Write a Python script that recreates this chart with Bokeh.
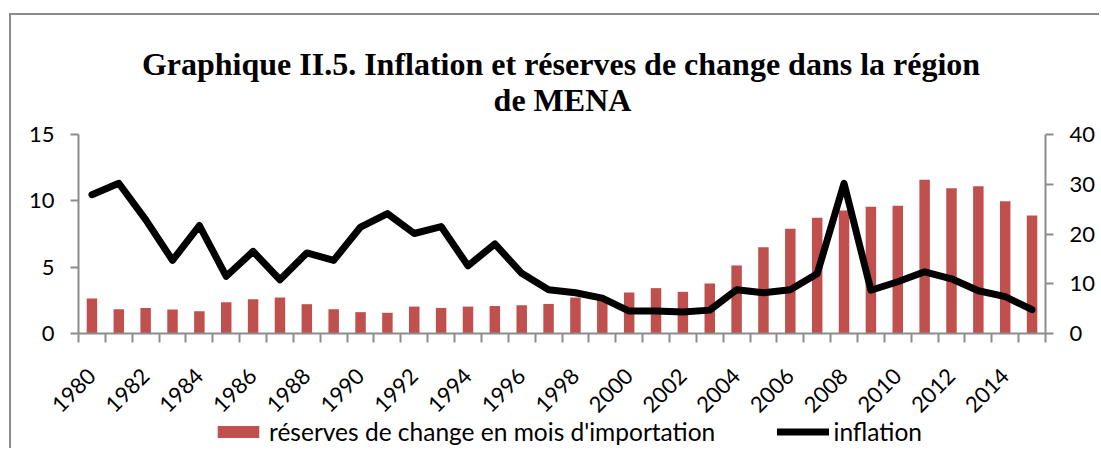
import math
from bokeh.plotting import figure
from bokeh.models import (Range1d, LinearAxis, FixedTicker, Legend, LegendItem,
                          Label, ColumnDataSource)
from bokeh.embed import file_html
from bokeh.resources import INLINE

# ---------------- data ----------------
years = list(range(1980, 2016))
reserves = [2.63, 1.83, 1.93, 1.81, 1.68, 2.36, 2.58, 2.71, 2.21, 1.83,
            1.61, 1.56, 2.03, 1.93, 2.03, 2.07, 2.13, 2.23, 2.71, 2.55,
            3.09, 3.42, 3.14, 3.77, 5.13, 6.50, 7.90, 8.73, 9.28, 9.56,
            9.63, 11.59, 10.94, 11.09, 9.96, 8.90]
inflation = [27.9, 30.2, 22.9, 14.7, 21.7, 11.5, 16.5, 10.8, 16.2, 14.7,
             21.4, 24.1, 20.1, 21.5, 13.6, 18.0, 12.1, 8.8, 8.2, 7.1,
             4.5, 4.5, 4.3, 4.7, 8.8, 8.2, 8.8, 12.0, 30.2, 8.7,
             10.4, 12.4, 11.0, 8.6, 7.4, 4.8]
left_ticks = [0, 5, 10, 15]
right_ticks = [0, 10, 20, 30, 40]
label_years = [y for y in years if y % 2 == 0]
title_line1 = "Graphique II.5. Inflation et réserves de change dans la région"
title_line2 = "de MENA"
label_reserves = "réserves de change en mois d'importation"
label_inflation = "inflation"

# ---------------- layout (pixels) ----------------
AXIS_GREY = "#8c8c8c"
BAR_RED = "#C0504D"
FONT = "Lato"
W, H = 1099, 448            # canvas = frame
PLOT_L, PLOT_R = 78, 1045   # x of first / last category edge
PLOT_T, PLOT_B = 134, 333   # y of top tick / zero line
px_per_cat = (PLOT_R - PLOT_L) / len(years)
x0 = years[0] - 0.5
x_start = x0 - PLOT_L / px_per_cat
x_end = x_start + W / px_per_cat
px_left = (PLOT_B - PLOT_T) / left_ticks[-1]
px_right = (PLOT_B - PLOT_T) / right_ticks[-1]

src = ColumnDataSource(dict(year=years, reserves=reserves, inflation=inflation))

p = figure(frame_width=W, frame_height=H,
           x_range=Range1d(x_start, x_end),
           y_range=Range1d(-(H - PLOT_B) / px_left, PLOT_B / px_left),
           output_backend="svg", toolbar_location=None,
           min_border_left=0, min_border_top=0, min_border_right=0,
           min_border_bottom=0,
           styles={"background-image": "linear-gradient(#8c8c8c, #8c8c8c), "
                                       "linear-gradient(#8c8c8c, #8c8c8c)",
                   "background-size": "100% 2px, 2px 100%",
                   "background-position": "9px 13px, 9px 13px",
                   "background-repeat": "no-repeat"})
p.extra_y_ranges = {"right": Range1d(-(H - PLOT_B) / px_right, PLOT_B / px_right)}
p.title = None
p.outline_line_color = None
p.background_fill_color = None
p.border_fill_color = None
p.xgrid.visible = False
p.ygrid.visible = False

bars = p.vbar(x="year", top="reserves", width=0.39, source=src,
              fill_color=BAR_RED, line_color=None)
line = p.line(x="year", y="inflation", source=src, y_range_name="right",
              line_color="black", line_width=7, line_join="round",
              line_cap="round")

# x axis at y = 0
xa = p.xaxis[0]
xa.fixed_location = 0
xa.bounds = (x0, years[-1] + 0.5)
xa.ticker = FixedTicker(ticks=label_years,
                        minor_ticks=[y - 0.5 for y in years] + [years[-1] + 0.5])
xa.major_tick_out = 0
xa.major_tick_in = 0
xa.minor_tick_out = 9
xa.minor_tick_in = 0
xa.minor_tick_line_color = AXIS_GREY
xa.minor_tick_line_width = 2
xa.axis_line_color = AXIS_GREY
xa.axis_line_width = 2
xa.major_label_orientation = math.pi / 4
xa.major_label_standoff = 30
xa.major_label_text_font = FONT
xa.major_label_text_font_size = "22px"
xa.major_label_text_color = "black"


def style_y(ax):
    ax.minor_tick_line_color = None
    ax.major_tick_out = 8
    ax.major_tick_in = 0
    ax.major_tick_line_color = AXIS_GREY
    ax.major_tick_line_width = 2
    ax.axis_line_color = AXIS_GREY
    ax.axis_line_width = 2
    ax.major_label_standoff = 16
    ax.major_label_text_font = FONT
    ax.major_label_text_font_size = "22px"
    ax.major_label_text_color = "black"


# left axis
ya = p.yaxis[0]
ya.fixed_location = x0
ya.bounds = (left_ticks[0], left_ticks[-1])
ya.ticker = FixedTicker(ticks=left_ticks)
style_y(ya)

# right axis
ra = LinearAxis(y_range_name="right", ticker=FixedTicker(ticks=right_ticks),
                bounds=(right_ticks[0], right_ticks[-1]),
                fixed_location=years[-1] + 0.5)
style_y(ra)
p.add_layout(ra, "right")

# title (two centred lines)
for txt, cx, base in [(title_line1, 560.5, 63.5), (title_line2, 562, 99.5)]:
    p.add_layout(Label(x=cx, y=H - base, x_units="screen", y_units="screen",
                       text=txt, text_align="center",
                       text_baseline="alphabetic",
                       text_font="Liberation Serif", text_font_style="bold",
                       text_font_size="32px", text_color="black"))

# legend (one box per entry, pinned to the reference positions)
common = dict(orientation="horizontal", glyph_width=52, glyph_height=15,
              label_height=15, padding=0, margin=0, border_line_color=None,
              background_fill_alpha=0, label_text_font=FONT,
              label_text_font_size="24.5px", label_text_color="black")
leg1 = Legend(items=[LegendItem(label=label_reserves, renderers=[bars])],
              location=(212, 2), label_standoff=5, **common)
leg2 = Legend(items=[LegendItem(label=label_inflation, renderers=[line])],
              location=(776.5, 2), label_standoff=5, **common)
p.add_layout(leg1)
p.add_layout(leg2)

open("out.html", "w").write(file_html(p, INLINE))
